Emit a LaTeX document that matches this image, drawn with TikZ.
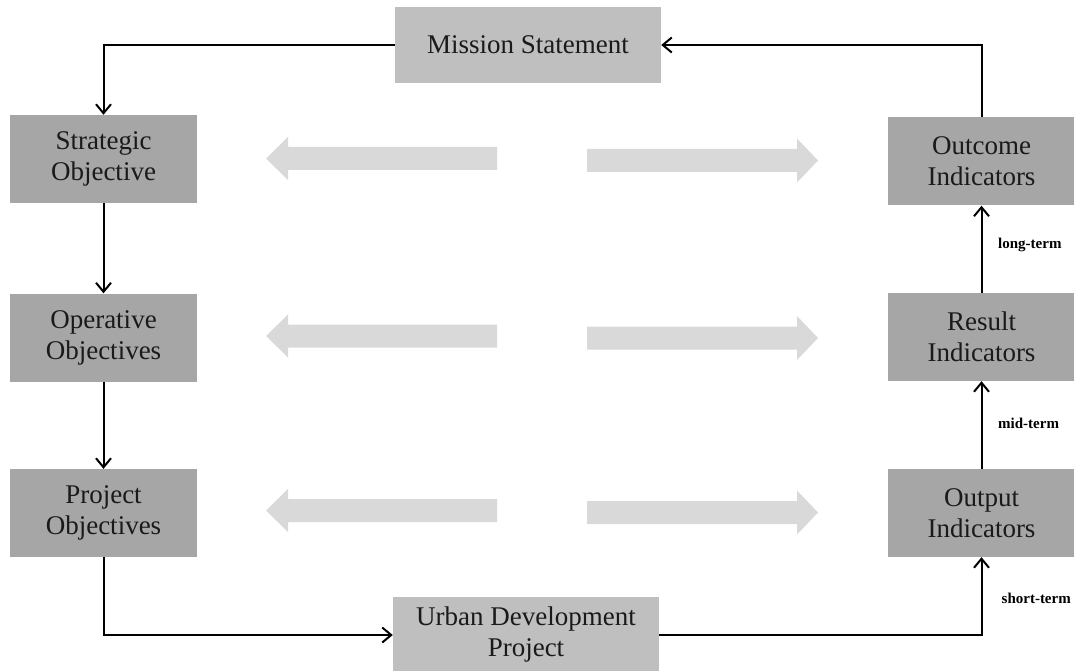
\documentclass[tikz,border=0pt]{standalone}
\usepackage{fontspec}
\setmainfont{Liberation Serif}
\usetikzlibrary{arrows.meta}
\definecolor{boxdark}{HTML}{A6A6A6}
\definecolor{boxlight}{HTML}{BFBFBF}
\definecolor{flowgray}{HTML}{D9D9D9}
\definecolor{inkgray}{HTML}{1A1A1A}
\begin{document}
\begin{tikzpicture}[x=1pt,y=-1pt,
  stage/.style={fill=boxdark, draw=none, minimum width=187pt, minimum height=88pt,
    inner sep=0pt, align=center, text=inkgray, font=\fontsize{27}{31}\selectfont},
  anchorbox/.style={stage, fill=boxlight, minimum width=266pt, minimum height=76pt},
  link/.style={line width=2pt, -{Straight Barb[length=9pt,width=15pt,line width=2pt]}},
  term/.style={font=\fontsize{15}{18}\selectfont\bfseries, inner sep=0pt},
  leftflow/.pic={\fill[flowgray] (231,-11.5) -- (22,-11.5) -- (22,-21.5) -- (0,0) -- (22,21.5) -- (22,11.5) -- (231,11.5) -- cycle;},
  rightflow/.pic={\fill[flowgray] (0,-11.5) -- (210,-11.5) -- (210,-22) -- (231,0) -- (210,22) -- (210,11.5) -- (0,11.5) -- cycle;}
]
\useasboundingbox (0,0) rectangle (1074,671);

% top and bottom anchors of the cycle
\node[anchorbox] (mission) at (528,45) {Mission Statement};
\node[anchorbox] (urban) at (526,635) {Urban Development\\Project};

% objectives (left column)
\node[stage] (strategic) at (103.5,159) {Strategic\\Objective};
\node[stage] (operative) at (103.5,337.5) {Operative\\Objectives};
\node[stage] (project) at (103.5,513) {Project\\Objectives};

% indicators (right column)
\node[stage] (outcome) at (981.5,161.5) {Outcome\\Indicators};
\node[stage] (result) at (981.5,337) {Result\\Indicators};
\node[stage] (output) at (981.5,513) {Output\\Indicators};

% horizontal flow arrows between the columns
\pic at (266,158.5) {leftflow};
\pic at (587,160.5) {rightflow};
\pic at (266,336) {leftflow};
\pic at (587,338) {rightflow};
\pic at (266,510.5) {leftflow};
\pic at (587,512.5) {rightflow};

% cycle connectors
\draw[link] (mission.west) -| (strategic.north);
\draw[link] (strategic.south) -- (operative.north);
\draw[link] (operative.south) -- (project.north);
\draw[link] (project.south) |- (urban.west);
\draw[link] (urban.east) -| (output.south);
\draw[link] (output.north) -- (result.south);
\draw[link] (result.north) -- (outcome.south);
\draw[link] (outcome.north) |- (mission.east);

% time horizons
\node[term, anchor=west] (longterm) at (998,245) {long-term};
\node[term, anchor=west] (midterm) at (998,423) {mid-term};
\node[term, anchor=east] (shortterm) at (1071,598) {short-term};
\end{tikzpicture}
\end{document}
